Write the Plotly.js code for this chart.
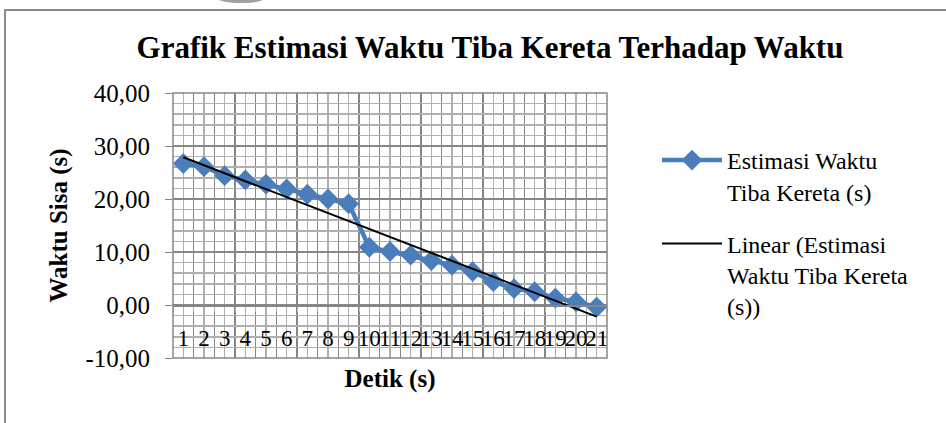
<!DOCTYPE html>
<html><head><meta charset="utf-8">
<script src="https://cdn.plot.ly/plotly-3.0.1.min.js"></script>
<style>html,body{margin:0;padding:0;background:#fff}#chart{width:946px;height:423px}</style>
</head><body><div id="chart"></div>
<script>
const detik = [1,2,3,4,5,6,7,8,9,10,11,12,13,14,15,16,17,18,19,20,21];
const tickLabels = ['1','2','3','4','5','6','7','8','9','10','11','12','13','14','15','16','17','18','19','20','21'];
const estimasi = [26.7,26.1,24.4,23.6,22.8,21.9,20.9,20.0,19.1,10.9,10.1,9.4,8.4,7.5,6.3,4.4,3.1,2.5,1.3,0.6,-0.4];
const yTicks = [-10,0,10,20,30,40];
const yTickLabels = ['-10,00','0,00','10,00','20,00','30,00','40,00'];

// linear trendline (least squares) from the data
const n = detik.length;
const mx = detik.reduce((a,b)=>a+b,0)/n;
const my = estimasi.reduce((a,b)=>a+b,0)/n;
let sxy=0, sxx=0;
for(let i=0;i<n;i++){sxy+=(detik[i]-mx)*(estimasi[i]-my);sxx+=(detik[i]-mx)**2;}
const slope = sxy/sxx, icpt = my - slope*mx;
const trend = detik.map(x=>icpt+slope*x);

const W=946,H=423, ml=173, mr=339, mt=93, mb=65;
const pw=W-ml-mr, ph=H-mt-mb;
const px=(p)=>(p-ml)/pw, py=(p)=>(H-mb-p)/ph;
const serif='Liberation Serif';
const major='#868686', minorC='#b0b0b0';
const f=(s)=>({family:serif,size:s,color:'#000'});

const traces=[
 {x:detik,y:estimasi,type:'scatter',mode:'lines+markers',name:'Estimasi Waktu<br>Tiba Kereta (s)',
  legendgroup:'a',
  line:{color:'#4a7ebb',width:4.5},marker:{symbol:'diamond',size:16,color:'#4a7ebb'}},
 {x:detik,y:trend,type:'scatter',mode:'lines',name:'Linear (Estimasi<br>Waktu Tiba Kereta<br>(s))',
  legendgroup:'b',line:{color:'#000',width:2}}
];
const layout={
 width:W,height:H,margin:{l:ml,r:mr,t:mt,b:mb},
 paper_bgcolor:'#fff',plot_bgcolor:'#fff',separators:',.',
 font:f(24),
 title:{text:'<b>Grafik Estimasi Waktu Tiba Kereta Terhadap Waktu</b>',xref:'container',yref:'container',
   x:490/W,y:1-47/H,xanchor:'center',yanchor:'middle',font:f(31)},
 xaxis:{range:[0.5,21.5],tickmode:'array',tickvals:detik,ticktext:tickLabels,tickangle:0,
   anchor:'free',position:0.2,showline:true,linecolor:major,linewidth:1.5,
   showgrid:true,gridcolor:minorC,gridwidth:1.5,zeroline:false,ticks:'',
   ticklabelstandoff:12,tickfont:f(23),
   minor:{tickmode:'linear',tick0:0.5,dtick:1,showgrid:true,gridcolor:major,gridwidth:1.5,ticks:'outside',ticklen:5,tickcolor:minorC},
   title:{text:'<b>Detik (s)</b>',font:f(25),standoff:19}},
 yaxis:{range:[-10,40],tickmode:'array',tickvals:yTicks,ticktext:yTickLabels,showgrid:true,gridcolor:major,gridwidth:1.5,
   zeroline:false,ticks:'outside',ticklen:7,tickcolor:major,tickfont:f(25),ticklabelstandoff:10,
   minor:{tickmode:'linear',tick0:0,dtick:2,showgrid:true,gridcolor:minorC,gridwidth:1.5},
   title:{text:'<b>Waktu Sisa (s)</b>',font:f(25),standoff:10}},
 showlegend:true,
 legend:{x:px(657),y:py(138),xanchor:'left',yanchor:'top',font:f(24),itemwidth:60,
   valign:'top',traceorder:'grouped',tracegroupgap:18,bgcolor:'rgba(0,0,0,0)'},
 shapes:[
  {type:'rect',xref:'paper',yref:'paper',x0:0,x1:1,y0:0,y1:1,line:{color:major,width:1.5}},
  {type:'rect',xref:'paper',yref:'paper',x0:px(5),x1:px(960),y0:py(440),y1:py(10),line:{color:'#8c8c8c',width:2}},
  {type:'circle',xref:'paper',yref:'paper',x0:px(218),x1:px(264),y0:py(3),y1:py(-6),fillcolor:'#a0a0a0',line:{width:0}}
 ]
};
Plotly.newPlot('chart',traces,layout,{displayModeBar:false,staticPlot:true});
</script></body></html>
